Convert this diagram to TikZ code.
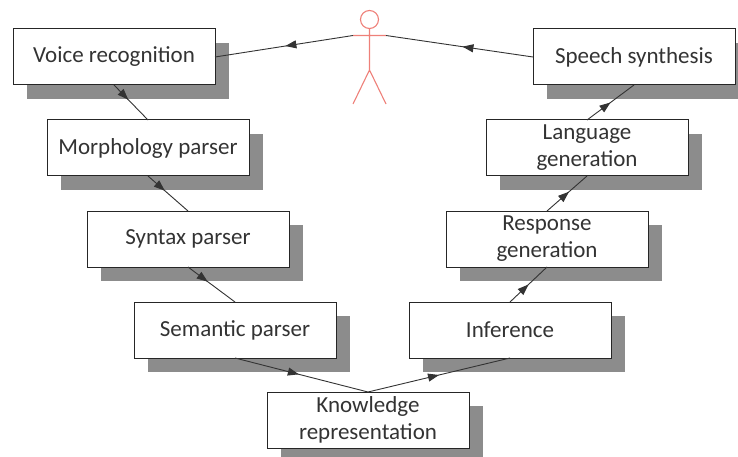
\documentclass[tikz,border=0pt]{standalone}
\usepackage{fontspec}
\setmainfont{Carlito}
\usetikzlibrary{positioning,arrows.meta,shadows,decorations.markings}
\definecolor{shadowgray}{HTML}{8C8C8C}
\definecolor{figurered}{HTML}{EE8079}
\definecolor{textgray}{HTML}{333333}
\tikzset{
	x=1pt, y=1pt,
	stagebox/.style={draw=black!85, line width=1pt, fill=white, text=textgray, font=\fontsize{23}{27}\selectfont, align=center, minimum width=202pt, minimum height=56pt, inner sep=0pt, outer sep=0pt, general shadow={fill=shadowgray, shadow xshift=14pt, shadow yshift=-14pt}}, % every box with its gray offset
	flow/.style={draw=black!80, line width=0.9pt, decoration={markings, mark=at position #1 with {\arrow{Triangle[length=11pt,width=8pt]}}}, postaction={decorate}}, % arrow head in mid line
	flow/.default=0.5,
	figureline/.style={draw=figurered, line width=1.1pt},
}
\begin{document}
\begin{tikzpicture}
	\useasboundingbox (0,0) rectangle (738,-457);
	\node[stagebox] (voice) at (114,-57) {Voice recognition};
	\node[stagebox,below right=35pt and -168pt of voice] (morph) {Morphology parser};
	\node[stagebox,below right=35pt and -162pt of morph] (syntax) {Syntax parser};
	\node[stagebox,below right=35pt and -155pt of syntax] (semantic) {Semantic parser};
	\node[stagebox,below right=34pt and -69pt of semantic] (knowledge) {Knowledge\\representation};
	\node[stagebox,right=73pt of semantic] (inference) {Inference};
	\node[stagebox,above right=35pt and -165pt of inference] (response) {Response\\generation};
	\node[stagebox,above right=35pt and -162pt of response] (language) {Language\\generation};
	\node[stagebox,above right=35pt and -155pt of language] (speech) {Speech synthesis};

	% the figure on top
	\node[circle,figureline,minimum size=18pt,inner sep=0pt,outer sep=0pt] (head) at (369.5,-19.5) {};
	\coordinate[below=7pt of head] (neck);
	\coordinate[below=41.5pt of head.south] (hip);
	\coordinate[left=16.5pt of neck] (handl);
	\coordinate[right=16.5pt of neck] (handr);
	\coordinate[below left=34pt and 16.5pt of hip] (footl);
	\coordinate[below right=34pt and 16.5pt of hip] (footr);
	\draw[figureline] (head.south) -- (hip) (handl) -- (handr) (footl) -- (hip) -- (footr);

	\draw[flow=0.48] (speech.west) -- (handr);
	\draw[flow=0.49] (handl) -- (voice.east);
	\draw[flow=0.42] (voice.south) -- (morph.north);
	\draw[flow=0.42] (morph.south) -- (syntax.north);
	\draw[flow=0.42] (syntax.south) -- (semantic.north);
	\draw[flow=0.48] (semantic.south) -- (knowledge.north);
	\draw[flow=0.5] (knowledge.north) -- (inference.south);
	\draw[flow=0.5] (inference.north) -- (response.south);
	\draw[flow=0.55] (response.north) -- (language.south);
	\draw[flow=0.5] (language.north) -- (speech.south);
\end{tikzpicture}
\end{document}
